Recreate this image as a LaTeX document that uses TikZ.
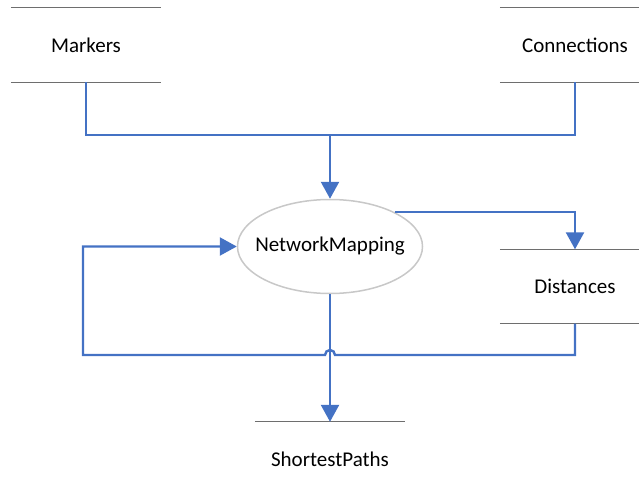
\documentclass[tikz,border=0pt]{standalone}
\usepackage{fontspec}
\setmainfont{Carlito}
\usetikzlibrary{arrows.meta,shapes.geometric,calc}
\definecolor{flow}{HTML}{4472C4}
\definecolor{storeline}{HTML}{6E6E6E}
\definecolor{procline}{HTML}{C8C8C8}
\begin{document}
\begin{tikzpicture}[x=1pt,y=-1pt,
  store/.style={minimum width=150pt,minimum height=74pt,inner sep=0pt,font=\fontsize{21}{25}\selectfont},
  storeedge/.style={draw=storeline,line width=1.3pt},
  proc/.style={ellipse,draw=procline,line width=1.5pt,minimum width=185pt,minimum height=94pt,inner sep=0pt,font=\fontsize{21}{25}\selectfont},
  flowline/.style={draw=flow,line width=2.4pt,-{Triangle[length=17pt,width=18pt]}},
  flowplain/.style={draw=flow,line width=2.4pt}]
\useasboundingbox (0,0) rectangle (639,497);
\node[store] (mk) at (86,45) {Markers};
\node[store] (cn) at (575,45) {Connections};
\node[store] (ds) at (575,286.5) {Distances};
\node[store] (sp) at (330,459) {ShortestPaths};
\node[proc] (nm) at (330,246.5) {\makebox[0pt]{NetworkMapping}};
\draw[storeedge] (mk.north west) -- (mk.north east) (mk.south west) -- (mk.south east);
\draw[storeedge] (cn.north west) -- (cn.north east) (cn.south west) -- (cn.south east);
\draw[storeedge] (ds.north west) -- (ds.north east) (ds.south west) -- (ds.south east);
\draw[storeedge] (sp.north west) -- (sp.north east);
\coordinate (merge) at (330,135);
\draw[flowplain] (mk.south) |- (merge);
\draw[flowplain] (cn.south) |- (merge);
\draw[flowline] (merge) -- (nm.north);
\draw[flowline] (nm.28) -| (ds.north);
\draw[flowline] (nm.south) -- (sp.north);
\coordinate (lowR) at (575,355);
\coordinate (jumpR) at (335,355);
\coordinate (lowL) at (83,355);
\draw[flowline,line join=miter] (ds.south) -- (lowR) -- (jumpR) arc[start angle=0,end angle=180,radius=5pt] -- (lowL) |- (nm.west);
\end{tikzpicture}
\end{document}
